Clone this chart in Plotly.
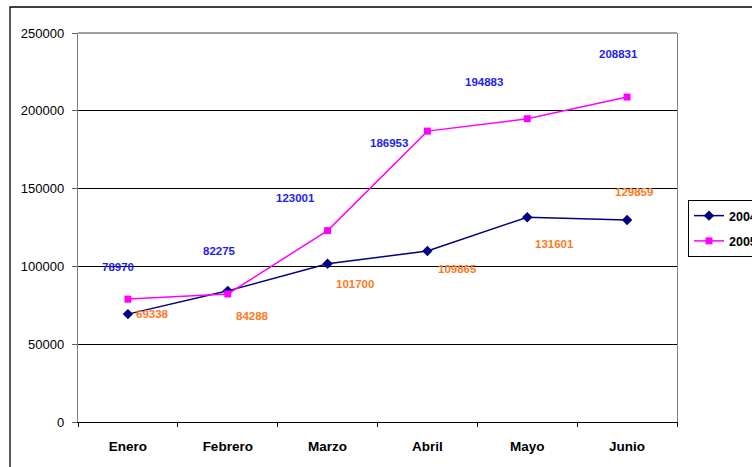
import plotly.graph_objects as go

# ---- data ----
meses = ["Enero", "Febrero", "Marzo", "Abril", "Mayo", "Junio"]
ventas_2004 = [69338, 84288, 101700, 109865, 131601, 129859]
ventas_2005 = [78970, 82275, 123001, 186953, 194883, 208831]
y_ticks = [0, 50000, 100000, 150000, 200000, 250000]
series_names = ["2004", "2005"]

# ---- style: label pixel offsets (dx right, dy down) ----
off_2004 = [(25, 0), (25, 25), (27, 20), (30, 18), (27, 27), (7, -28)]
off_2005 = [(-10, -32), (-8, -43), (-32, -33), (-38, 12), (-43, -37), (-9, -43)]

FONT = "Arial, 'Liberation Sans', sans-serif"
NAVY = "#000080"
MAGENTA = "#FF00FF"
LBL_BLUE = "#1E1EF0"
LBL_ORANGE = "#FF7A22"

fig = go.Figure()
fig.add_trace(go.Scatter(
    x=meses, y=ventas_2004, name=series_names[0], mode="lines+markers",
    legendgroup="a",
    line=dict(color=NAVY, width=1.5),
    marker=dict(symbol="diamond", size=8, color=NAVY),
))
fig.add_trace(go.Scatter(
    x=meses, y=ventas_2005, name=series_names[1], mode="lines+markers",
    legendgroup="b",
    line=dict(color=MAGENTA, width=1.5),
    marker=dict(symbol="square", size=7, color=MAGENTA),
))

annotations = []
for vals, offs, col in ((ventas_2004, off_2004, LBL_ORANGE), (ventas_2005, off_2005, LBL_BLUE)):
    for m, v, (dx, dy) in zip(meses, vals, offs):
        annotations.append(dict(
            x=m, y=v, xref="x", yref="y", text=str(v), showarrow=False,
            xshift=dx, yshift=-dy,
            font=dict(family=FONT, size=11.5, color=col, weight="bold"),
        ))

W, H = 752, 467
L, T = 78, 33
R = W - 677
B = H - 422
pw, ph = W - L - R, H - T - B

def px_to_paper_x(px):
    return (px - L) / pw

def px_to_paper_y(py):
    return (H - B - py) / ph

shapes = [
    # outer chart border
    dict(type="rect", xref="paper", yref="paper",
         x0=px_to_paper_x(10), x1=px_to_paper_x(800),
         y0=px_to_paper_y(520), y1=px_to_paper_y(7),
         line=dict(color="black", width=1.3), fillcolor="rgba(0,0,0,0)", layer="below"),
    # gray top border of plot area
    dict(type="line", xref="paper", yref="paper", x0=0, x1=1, y0=1, y1=1,
         line=dict(color="#808080", width=1.3), layer="above"),
]

fig.update_layout(
    width=W, height=H,
    margin=dict(l=L, r=R, t=T, b=B, autoexpand=False),
    paper_bgcolor="white", plot_bgcolor="white",
    font=dict(family=FONT, color="black"),
    showlegend=True,
    legend=dict(
        x=px_to_paper_x(688), y=px_to_paper_y(200), xanchor="left", yanchor="top",
        bgcolor="white", bordercolor="black", borderwidth=1,
        font=dict(family=FONT, size=12.5, color="black", weight="bold"),
        tracegroupgap=6,
    ),
    annotations=annotations,
    shapes=shapes,
)
fig.update_xaxes(
    type="category", range=[-0.5, 5.5],
    showline=True, linecolor="black", linewidth=1.3,
    ticks="outside", tickson="boundaries", ticklen=4, tickcolor="black",
    showgrid=False, zeroline=False,
    tickfont=dict(family=FONT, size=13.5, color="black", weight="bold"),
    ticklabelstandoff=12,
)
fig.update_yaxes(
    range=[0, 250000], tickvals=y_ticks, ticktext=[str(t) for t in y_ticks],
    showline=True, linecolor="#808080", linewidth=1.3, mirror=True,
    ticks="outside", ticklen=5, tickcolor="#606060",
    showgrid=True, gridcolor="black", gridwidth=1, zeroline=False,
    tickfont=dict(family=FONT, size=13, color="black"),
    ticklabelstandoff=5,
)

# remove the default 8px page margin so the figure fills the window exactly
fig.write_html(
    "out.html",
    config={"displayModeBar": False},
    post_script="document.body.style.margin='0px';document.body.style.overflow='hidden';",
)
